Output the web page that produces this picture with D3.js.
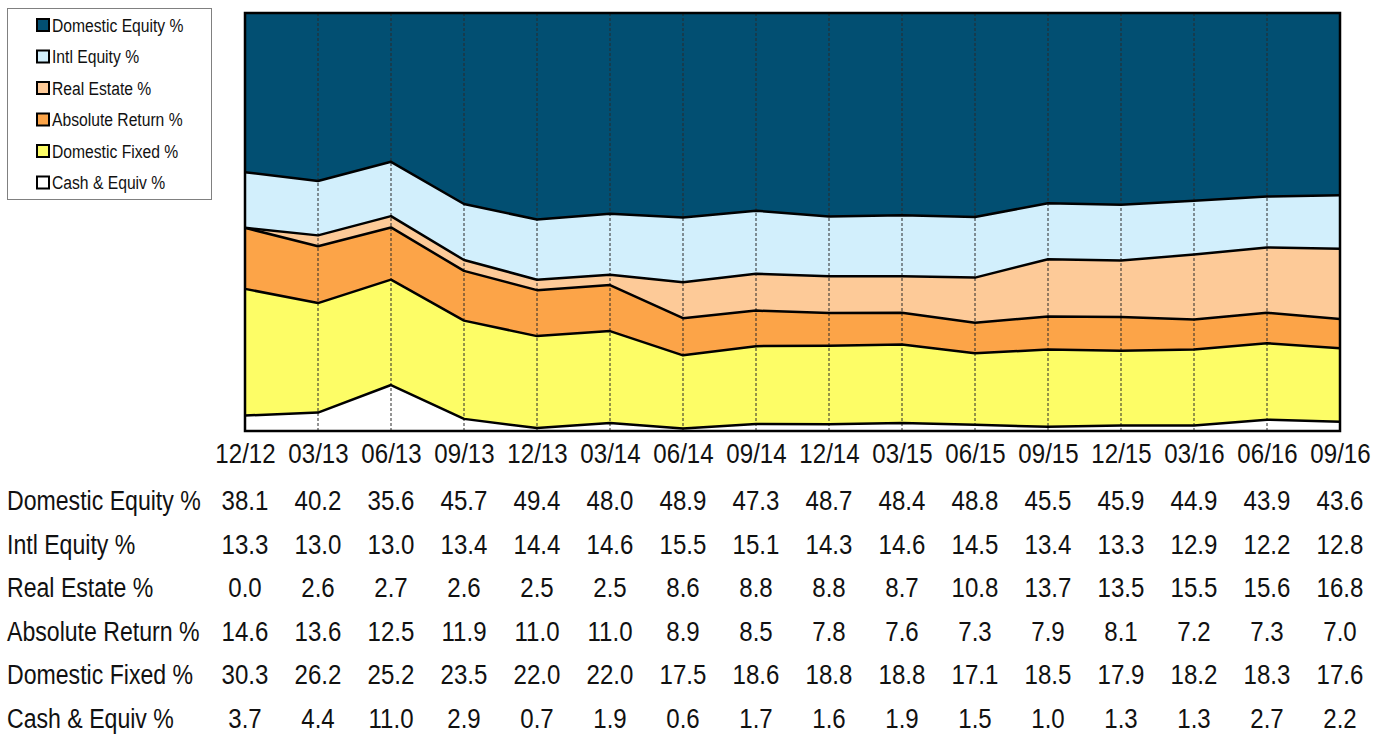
<!DOCTYPE html>
<html><head><meta charset="utf-8">
<script src="https://cdn.jsdelivr.net/npm/d3@7"></script>
<style>
html,body{margin:0;padding:0;background:#fff;}
svg{display:block;}
text{font-family:"Liberation Sans",Arial,sans-serif;fill:#111;}
</style></head>
<body><svg id="c" width="1387" height="734"></svg>
<script>
const categories = ["12/12","03/13","06/13","09/13","12/13","03/14","06/14","09/14","12/14","03/15","06/15","09/15","12/15","03/16","06/16","09/16"];
const seriesNames = ["Domestic Equity %","Intl Equity %","Real Estate %","Absolute Return %","Domestic Fixed %","Cash & Equiv %"];
const domesticEquity = [38.1,40.2,35.6,45.7,49.4,48.0,48.9,47.3,48.7,48.4,48.8,45.5,45.9,44.9,43.9,43.6];
const intlEquity     = [13.3,13.0,13.0,13.4,14.4,14.6,15.5,15.1,14.3,14.6,14.5,13.4,13.3,12.9,12.2,12.8];
const realEstate     = [0.0,2.6,2.7,2.6,2.5,2.5,8.6,8.8,8.8,8.7,10.8,13.7,13.5,15.5,15.6,16.8];
const absoluteReturn = [14.6,13.6,12.5,11.9,11.0,11.0,8.9,8.5,7.8,7.6,7.3,7.9,8.1,7.2,7.3,7.0];
const domesticFixed  = [30.3,26.2,25.2,23.5,22.0,22.0,17.5,18.6,18.8,18.8,17.1,18.5,17.9,18.2,18.3,17.6];
const cashEquiv      = [3.7,4.4,11.0,2.9,0.7,1.9,0.6,1.7,1.6,1.9,1.5,1.0,1.3,1.3,2.7,2.2];
const colors = ["#024f72","#d2effc","#fdca98","#fca448","#fdfd66","#ffffff"];

const seriesValues = [domesticEquity,intlEquity,realEstate,absoluteReturn,domesticFixed,cashEquiv];
const keys = seriesNames.slice();
const rows = categories.map((c,i)=>{const r={cat:c}; keys.forEach((k,j)=>r[k]=seriesValues[j][i]); return r;});

const svg = d3.select("#c");
const L=245, R=1340, T=13, B=431;
const NARROW_TXT = 0.825, NARROW_NUM = 0.86;
const x = d3.scalePoint().domain(categories).range([L,R]);
const y = d3.scaleLinear().domain([0,100]).range([B,T]);

const stackOrder = keys.slice().reverse();
const layers = d3.stack().keys(stackOrder)(rows);

const area = d3.area().x(d=>x(d.data.cat)).y0(d=>y(d[0])).y1(d=>y(Math.min(d[1],100)));
const line = d3.line().x(d=>x(d.data.cat)).y(d=>y(Math.min(d[1],100)));

const g = svg.append("g");
g.selectAll("path.area").data(layers).join("path")
  .attr("class","area").attr("d",area)
  .attr("fill",d=>colors[keys.indexOf(d.key)]);

g.selectAll("line.grid").data(categories.slice(1,-1)).join("line")
  .attr("x1",d=>x(d)).attr("x2",d=>x(d)).attr("y1",T).attr("y2",B)
  .attr("stroke","#2a2a2a").attr("stroke-width",1).attr("stroke-dasharray","3,2");

g.selectAll("path.edge").data(layers.slice(0,-1)).join("path")
  .attr("class","edge").attr("d",line).attr("fill","none")
  .attr("stroke","#000").attr("stroke-width",2.5).attr("stroke-linejoin","round");

g.append("rect").attr("x",L).attr("y",T).attr("width",R-L).attr("height",B-T)
  .attr("fill","none").attr("stroke","#000").attr("stroke-width",2.5);

function ntext(sel, tx, ty, str, size, anchor, k){
  return sel.append("text").attr("transform",`translate(${tx},${ty}) scale(${k},1)`)
    .attr("text-anchor",anchor||"start").style("font-size",size+"px").text(str);
}

// x-axis labels
const ax = svg.append("g").attr("transform",`translate(0,${B})`).call(d3.axisBottom(x).tickSize(0).tickPadding(0));
ax.select(".domain").remove();
ax.selectAll("text").attr("y",0).attr("dy",0)
  .attr("transform",`translate(0,32) scale(${NARROW_NUM},1)`)
  .style("font-size","28px").style("font-family",'"Liberation Sans",Arial,sans-serif').attr("fill","#111");

// table
const tbl = svg.append("g");
seriesNames.forEach((name,i)=>{
  const yy = 510 + 43.5*i;
  ntext(tbl, 7, yy, name, 28, "start", NARROW_TXT);
  seriesValues[i].forEach((v,j)=>ntext(tbl, x(categories[j]), yy, v.toFixed(1), 28, "middle", NARROW_NUM));
});

// legend
const lg = svg.append("g");
lg.append("rect").attr("x",7.5).attr("y",8.5).attr("width",204).attr("height",191)
  .attr("fill","#fff").attr("stroke","#808080").attr("stroke-width",1);
seriesNames.forEach((name,i)=>{
  const cy = 25 + 31.5*i;
  lg.append("rect").attr("x",37).attr("y",cy-6).attr("width",12).attr("height",12)
    .attr("fill",colors[i]).attr("stroke","#000").attr("stroke-width",2);
  ntext(lg, 52, cy+6.5, name, 19, "start", NARROW_TXT);
});
</script></body></html>
